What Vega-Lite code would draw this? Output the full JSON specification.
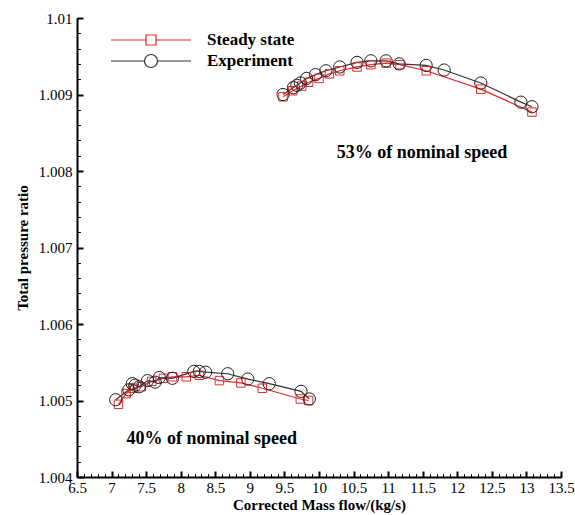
{
  "$schema": "https://vega.github.io/schema/vega-lite/v6.json",
  "width": 484,
  "height": 459,
  "autosize": {"type": "none"},
  "padding": {"left": 77, "top": 18, "right": 14, "bottom": 38},
  "background": "white",
  "config": {"view": {"stroke": null}, "axis": {"grid": false}},
  "data": {
    "values": [
      {"series": "Steady state", "speed": "40", "flow": 7.10, "ratio": 1.00495},
      {"series": "Steady state", "speed": "40", "flow": 7.21, "ratio": 1.00509},
      {"series": "Steady state", "speed": "40", "flow": 7.31, "ratio": 1.00516},
      {"series": "Steady state", "speed": "40", "flow": 7.43, "ratio": 1.00518},
      {"series": "Steady state", "speed": "40", "flow": 7.58, "ratio": 1.00525},
      {"series": "Steady state", "speed": "40", "flow": 7.75, "ratio": 1.00529},
      {"series": "Steady state", "speed": "40", "flow": 7.88, "ratio": 1.00531},
      {"series": "Steady state", "speed": "40", "flow": 8.08, "ratio": 1.00531},
      {"series": "Steady state", "speed": "40", "flow": 8.27, "ratio": 1.00533},
      {"series": "Steady state", "speed": "40", "flow": 8.56, "ratio": 1.00526},
      {"series": "Steady state", "speed": "40", "flow": 8.87, "ratio": 1.00523},
      {"series": "Steady state", "speed": "40", "flow": 9.18, "ratio": 1.00516},
      {"series": "Steady state", "speed": "40", "flow": 9.73, "ratio": 1.00502},
      {"series": "Steady state", "speed": "40", "flow": 9.85, "ratio": 1.00500},
      {"series": "Experiment", "speed": "40", "flow": 7.06, "ratio": 1.00501},
      {"series": "Experiment", "speed": "40", "flow": 7.25, "ratio": 1.00514},
      {"series": "Experiment", "speed": "40", "flow": 7.30, "ratio": 1.00522},
      {"series": "Experiment", "speed": "40", "flow": 7.34, "ratio": 1.00520},
      {"series": "Experiment", "speed": "40", "flow": 7.40, "ratio": 1.00518},
      {"series": "Experiment", "speed": "40", "flow": 7.52, "ratio": 1.00526},
      {"series": "Experiment", "speed": "40", "flow": 7.63, "ratio": 1.00524},
      {"series": "Experiment", "speed": "40", "flow": 7.69, "ratio": 1.00530},
      {"series": "Experiment", "speed": "40", "flow": 7.88, "ratio": 1.00529},
      {"series": "Experiment", "speed": "40", "flow": 8.19, "ratio": 1.00538},
      {"series": "Experiment", "speed": "40", "flow": 8.27, "ratio": 1.00538},
      {"series": "Experiment", "speed": "40", "flow": 8.36, "ratio": 1.00537},
      {"series": "Experiment", "speed": "40", "flow": 8.68, "ratio": 1.00535},
      {"series": "Experiment", "speed": "40", "flow": 8.97, "ratio": 1.00528},
      {"series": "Experiment", "speed": "40", "flow": 9.28, "ratio": 1.00522},
      {"series": "Experiment", "speed": "40", "flow": 9.74, "ratio": 1.00512},
      {"series": "Experiment", "speed": "40", "flow": 9.86, "ratio": 1.00502},
      {"series": "Steady state", "speed": "53", "flow": 9.48, "ratio": 1.00897},
      {"series": "Steady state", "speed": "53", "flow": 9.62, "ratio": 1.00905},
      {"series": "Steady state", "speed": "53", "flow": 9.75, "ratio": 1.00911},
      {"series": "Steady state", "speed": "53", "flow": 9.85, "ratio": 1.00916},
      {"series": "Steady state", "speed": "53", "flow": 10.0, "ratio": 1.00921},
      {"series": "Steady state", "speed": "53", "flow": 10.15, "ratio": 1.00927},
      {"series": "Steady state", "speed": "53", "flow": 10.3, "ratio": 1.00931},
      {"series": "Steady state", "speed": "53", "flow": 10.55, "ratio": 1.00936},
      {"series": "Steady state", "speed": "53", "flow": 10.75, "ratio": 1.00939},
      {"series": "Steady state", "speed": "53", "flow": 10.97, "ratio": 1.00941},
      {"series": "Steady state", "speed": "53", "flow": 11.17, "ratio": 1.00939},
      {"series": "Steady state", "speed": "53", "flow": 11.55, "ratio": 1.00931},
      {"series": "Steady state", "speed": "53", "flow": 12.34, "ratio": 1.00907},
      {"series": "Steady state", "speed": "53", "flow": 13.08, "ratio": 1.00877},
      {"series": "Experiment", "speed": "53", "flow": 9.48, "ratio": 1.00900},
      {"series": "Experiment", "speed": "53", "flow": 9.63, "ratio": 1.00909},
      {"series": "Experiment", "speed": "53", "flow": 9.68, "ratio": 1.00912},
      {"series": "Experiment", "speed": "53", "flow": 9.73, "ratio": 1.00915},
      {"series": "Experiment", "speed": "53", "flow": 9.82, "ratio": 1.00921},
      {"series": "Experiment", "speed": "53", "flow": 9.95, "ratio": 1.00926},
      {"series": "Experiment", "speed": "53", "flow": 10.1, "ratio": 1.00931},
      {"series": "Experiment", "speed": "53", "flow": 10.3, "ratio": 1.00936},
      {"series": "Experiment", "speed": "53", "flow": 10.55, "ratio": 1.00942},
      {"series": "Experiment", "speed": "53", "flow": 10.75, "ratio": 1.00944},
      {"series": "Experiment", "speed": "53", "flow": 10.97, "ratio": 1.00944},
      {"series": "Experiment", "speed": "53", "flow": 11.16, "ratio": 1.00940},
      {"series": "Experiment", "speed": "53", "flow": 11.55, "ratio": 1.00938},
      {"series": "Experiment", "speed": "53", "flow": 11.81, "ratio": 1.00932},
      {"series": "Experiment", "speed": "53", "flow": 12.34, "ratio": 1.00915},
      {"series": "Experiment", "speed": "53", "flow": 12.92, "ratio": 1.00890},
      {"series": "Experiment", "speed": "53", "flow": 13.08, "ratio": 1.00884}
    ]
  },
  "resolve": {"axis": {"x": "independent", "y": "independent"}},
  "layer": [
    {
      "mark": {"type": "line", "strokeWidth": 1.2},
      "encoding": {
        "x": {
          "field": "flow", "type": "quantitative",
          "scale": {"domain": [6.5, 13.5], "nice": false, "zero": false},
          "axis": {
            "orient": "bottom", "title": "Corrected Mass flow/(kg/s)",
            "values": [6.5, 7, 7.5, 8, 8.5, 9, 9.5, 10, 10.5, 11, 11.5, 12, 12.5, 13, 13.5],
            "format": "~g", "ticks": false,
            "domainColor": "black", "domainWidth": 2,
            "labelPadding": 3, "labelFont": "Liberation Serif", "labelFontSize": 15, "labelColor": "black",
            "labelFlush": false, "labelOverlap": false,
            "titleFont": "Liberation Serif", "titleFontSize": 15, "titleFontWeight": "bold", "titleColor": "black", "titlePadding": 2
          }
        },
        "y": {
          "field": "ratio", "type": "quantitative",
          "scale": {"domain": [1.004, 1.01], "nice": false, "zero": false},
          "axis": {
            "orient": "left", "title": "Total pressure ratio",
            "values": [1.004, 1.005, 1.006, 1.007, 1.008, 1.009, 1.01],
            "format": ".3~f", "ticks": false,
            "domainColor": "black", "domainWidth": 2,
            "labelPadding": 5, "labelFont": "Liberation Serif", "labelFontSize": 15, "labelColor": "black",
            "labelFlush": false, "labelOverlap": false,
            "titleFont": "Liberation Serif", "titleFontSize": 15, "titleFontWeight": "bold", "titleColor": "black", "titlePadding": 8
          }
        },
        "detail": {"field": "speed"},
        "color": {
          "field": "series", "type": "nominal",
          "scale": {"domain": ["Steady state", "Experiment"], "range": ["#e8282a", "#333333"]},
          "legend": {
            "orient": "none", "legendX": 63, "legendY": 11, "title": null, "padding": 0,
            "symbolSize": 400, "symbolStrokeWidth": 1.2, "labelOffset": 45, "rowPadding": 2,
            "labelFont": "Liberation Serif", "labelFontSize": 17, "labelFontWeight": "bold", "labelColor": "black",
            "encode": {
              "symbols": {
                "update": {
                  "shape": {"signal": "datum.value === 'Steady state' ? 'M-4,0H-0.5M0.5,0H4M-0.5,-0.5H0.5V0.5H-0.5Z' : 'M-4,0H-0.65M0.65,0H4M-0.65,0A0.65,0.65 0 1,0 0.65,0A0.65,0.65 0 1,0 -0.65,0'"},
                  "fill": {"value": "transparent"},
                  "strokeWidth": {"value": 1.2}
                }
              }
            }
          }
        }
      }
    },
    {
      "transform": [{"filter": "datum.series === 'Steady state'"}],
      "mark": {"type": "point", "shape": "square", "filled": false, "color": "#e8282a", "size": 72, "strokeWidth": 1, "opacity": 1},
      "encoding": {
        "x": {"field": "flow", "type": "quantitative", "axis": {"orient": "top", "offset": -459, "values": [6.5, 7, 7.5, 8, 8.5, 9, 9.5, 10, 10.5, 11, 11.5, 12, 12.5, 13, 13.5], "tickColor": "black", "tickWidth": 2, "tickSize": 6, "labels": false, "domain": false, "title": null}},
        "y": {"field": "ratio", "type": "quantitative", "axis": {"orient": "right", "offset": -484, "values": [1.004, 1.005, 1.006, 1.007, 1.008, 1.009, 1.01], "tickColor": "black", "tickWidth": 2, "tickSize": 6, "labels": false, "domain": false, "title": null}}
      }
    },
    {
      "transform": [{"filter": "datum.series === 'Experiment'"}],
      "mark": {"type": "point", "shape": "circle", "filled": false, "color": "#222222", "size": 150, "strokeWidth": 1, "opacity": 1},
      "encoding": {
        "x": {"field": "flow", "type": "quantitative", "axis": {"orient": "top", "offset": -459, "tickCount": 70, "tickColor": "black", "tickSize": 3, "labels": false, "domain": false, "title": null}},
        "y": {"field": "ratio", "type": "quantitative", "axis": {"orient": "right", "offset": -484, "tickCount": 30, "tickColor": "black", "tickSize": 3, "labels": false, "domain": false, "title": null}}
      }
    },
    {
      "data": {"values": [{"label": "53% of nominal speed"}]},
      "mark": {"type": "text", "font": "Liberation Serif", "fontSize": 18, "fontWeight": "bold", "color": "black", "align": "center", "baseline": "middle"},
      "encoding": {
        "text": {"field": "label"},
        "x": {"datum": 11.49, "type": "quantitative", "axis": {"orient": "top", "offset": -459, "tickCount": 70, "tickColor": "black", "tickSize": 3, "labels": false, "domain": false, "title": null}},
        "y": {"datum": 1.00823, "type": "quantitative", "axis": {"orient": "right", "offset": -484, "tickCount": 30, "tickColor": "black", "tickSize": 3, "labels": false, "domain": false, "title": null}}
      }
    },
    {
      "data": {"values": [{"label": "40% of nominal speed"}]},
      "mark": {"type": "text", "font": "Liberation Serif", "fontSize": 18, "fontWeight": "bold", "color": "black", "align": "center", "baseline": "middle"},
      "encoding": {
        "text": {"field": "label"},
        "x": {"datum": 8.45, "type": "quantitative", "axis": {"orient": "top", "offset": -459, "tickCount": 70, "tickColor": "black", "tickSize": 3, "labels": false, "domain": false, "title": null}},
        "y": {"datum": 1.0045, "type": "quantitative", "axis": {"orient": "right", "offset": -484, "tickCount": 30, "tickColor": "black", "tickSize": 3, "labels": false, "domain": false, "title": null}}
      }
    }
  ]
}
